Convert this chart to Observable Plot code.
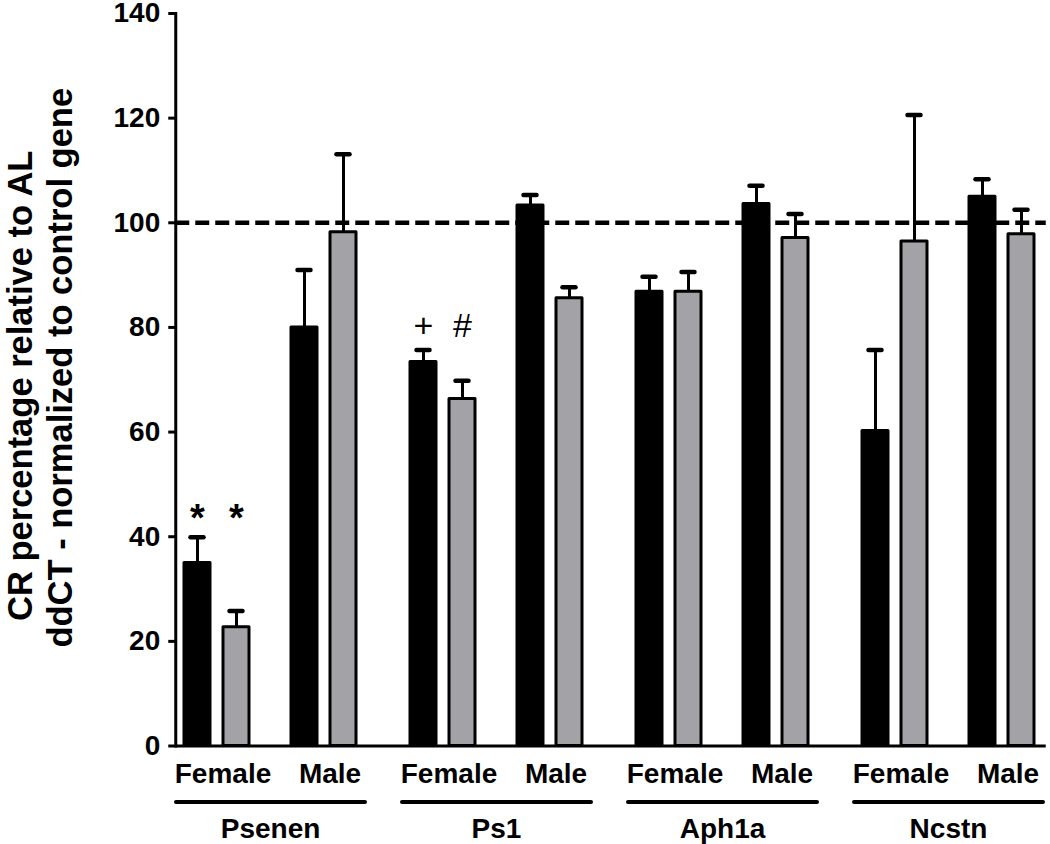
<!DOCTYPE html>
<html>
<head>
<meta charset="utf-8">
<script src="https://cdn.jsdelivr.net/npm/d3@7"></script>
<script src="https://cdn.jsdelivr.net/npm/@observablehq/plot@0.6"></script>
<style>
  html, body { margin: 0; padding: 0; background: #fff; }
  #chart svg { display: block; }
</style>
</head>
<body>
<div id="chart"></div>
<script>
// ---- data ----
const genes = ["Psenen", "Ps1", "Aph1a", "Ncstn"];
const sexes = ["Female", "Male"];
// order: Psenen F, Psenen M, Ps1 F, Ps1 M, Aph1a F, Aph1a M, Ncstn F, Ncstn M
const blackMeans = [35.0, 80.0, 73.4, 103.3, 86.8, 103.6, 60.2, 105.0];
const blackErr   = [4.9, 11.0, 2.3, 2.0, 2.9, 3.5, 15.5, 3.3];
const grayMeans  = [22.7, 98.2, 66.3, 85.6, 86.8, 97.1, 96.4, 97.8];
const grayErr    = [3.1, 14.9, 3.5, 2.1, 3.8, 4.6, 24.2, 4.7];
const yTicks = [0, 20, 40, 60, 80, 100, 120, 140];
const referenceLine = [100];
const yTitle1 = "CR percentage relative to AL";
const yTitle2 = "ddCT - normalized to control gene";
const sigGene   = ["Psenen", "Psenen", "Ps1", "Ps1"];
const sigSex    = ["Female", "Female", "Female", "Female"];
const sigSeries = ["black", "gray", "black", "gray"];
const sigSymbol = ["*", "*", "+", "#"];
const sigY      = [43.4, 43.4, 80.2, 80.2];

const rows = genes.flatMap((g, i) => sexes.map((s, j) => {
  const k = i * 2 + j;
  return {gene: g, sex: s, black: blackMeans[k], blackErr: blackErr[k], gray: grayMeans[k], grayErr: grayErr[k]};
}));
const sig = sigGene.map((g, i) => ({gene: g, sex: sigSex[i], series: sigSeries[i], symbol: sigSymbol[i], y: sigY[i]}));

const GRAY = "#a3a2a7";
const sigMark = (series, star) => Plot.text(
  sig.filter(d => d.series === series && (d.symbol === "*") === star),
  {fx: "gene", x: "sex", y: "y", text: "symbol", dx: series === "black" ? -19.5 : 19.5,
   fontSize: star ? 38 : 34, fontWeight: star ? "bold" : "normal"});

const chart = Plot.plot({
  width: 1050,
  height: 844,
  marginTop: 13,
  marginBottom: 98.5,
  marginLeft: 173.5,
  marginRight: 5,
  style: {fontFamily: "'Liberation Sans', Arial, sans-serif", fontWeight: "bold", fontSize: "28px", color: "#000", background: "#fff"},
  fx: {domain: genes, paddingInner: 0.2203, paddingOuter: 0.0298, axis: null, label: null},
  x: {domain: sexes, paddingInner: 0.361, paddingOuter: 0, axis: null, label: null},
  y: {domain: [0, 140], axis: null, label: null},
  marks: [
    // dashed reference line (drawn once, from the left facet across the whole frame)
    Plot.ruleY(referenceLine, {facetAnchor: "left", insetLeft: -6.75, insetRight: -687.75, stroke: "#000", strokeWidth: 4.5, strokeDasharray: "14,6"}),
    // bars
    Plot.barY(rows, {fx: "gene", x: "sex", y1: 0, y2: "black", fill: "#000", stroke: "#000", strokeWidth: 3, strokeLinejoin: "round", insetLeft: 1.5, insetRight: 40.5}),
    Plot.barY(rows, {fx: "gene", x: "sex", y1: 0, y2: "gray", fill: GRAY, stroke: "#000", strokeWidth: 3, strokeLinejoin: "round", insetLeft: 40.5, insetRight: 1.5}),
    // error bars (upper only)
    Plot.ruleX(rows, {fx: "gene", x: "sex", y1: "black", y2: d => d.black + d.blackErr, dx: -19.5, stroke: "#000", strokeWidth: 3}),
    Plot.ruleX(rows, {fx: "gene", x: "sex", y1: "gray", y2: d => d.gray + d.grayErr, dx: 19.5, stroke: "#000", strokeWidth: 3}),
    Plot.tickY(rows, {fx: "gene", x: "sex", y: d => d.black + d.blackErr, insetLeft: 8, insetRight: 47, stroke: "#000", strokeWidth: 4.5, strokeLinecap: "round"}),
    Plot.tickY(rows, {fx: "gene", x: "sex", y: d => d.gray + d.grayErr, insetLeft: 47, insetRight: 8, stroke: "#000", strokeWidth: 4.5, strokeLinecap: "round"}),
    // significance symbols
    sigMark("black", true), sigMark("gray", true), sigMark("black", false), sigMark("gray", false),
    // x axis baseline across the whole frame
    Plot.ruleY([0], {facetAnchor: "left", insetLeft: -6.75, insetRight: -687.75, stroke: "#000", strokeWidth: 3}),
    // y axis line, ticks and labels
    Plot.frame({anchor: "left", facetAnchor: "left", dx: -6.75, stroke: "#000", strokeWidth: 3}),
    Plot.axisY({ticks: yTicks, tickSize: 7, tickPadding: 8.5, strokeWidth: 3, dx: -6.75, label: null, fontSize: 28}),
    // y axis title (two lines)
    Plot.text([yTitle1], {facetAnchor: "left", frameAnchor: "left", text: d => d, rotate: -90, lineAnchor: "bottom", textAnchor: "middle", dx: -150.25, dy: 6, fontSize: 34.5}),
    Plot.text([yTitle2], {facetAnchor: "left", frameAnchor: "left", text: d => d, rotate: -90, lineAnchor: "bottom", textAnchor: "middle", dx: -110.25, dy: -12, fontSize: 34.5}),
    // sex labels
    Plot.axisX({tickSize: 0, tickPadding: 17.5, dx: 6, label: null, fontSize: 28}),
    // gene underline and gene labels
    Plot.ruleY([0], {dy: 56, insetLeft: -6, insetRight: -7, stroke: "#000", strokeWidth: 4, strokeLinecap: "round"}),
    Plot.text(genes, {fx: d => d, text: d => d, frameAnchor: "bottom", lineAnchor: "top", dy: 72.5, fontSize: 28})
  ]
});
document.getElementById("chart").appendChild(chart);
</script>
</body>
</html>
